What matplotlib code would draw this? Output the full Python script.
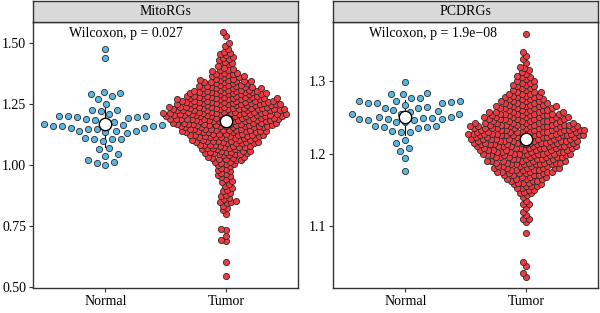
import numpy as np
import matplotlib
matplotlib.use('Agg')
from matplotlib import pyplot as plt

plt.rcParams['font.family'] = ['Liberation Serif', 'DejaVu Serif']

groups = ['Normal', 'Tumor']
panels = ['MitoRGs', 'PCDRGs']
p_texts = ['Wilcoxon, p = 0.027', 'Wilcoxon, p = 1.9e\u221208']

# MitoRGs, normal samples
mito_normal = [1.478, 1.440, 1.295, 1.300, 1.282, 1.270, 1.290, 1.253, 1.225, 1.223,
               1.228, 1.202, 1.202, 1.209, 1.198, 1.193, 1.189, 1.176, 1.164, 1.159,
               1.164, 1.176, 1.197, 1.202, 1.184, 1.167, 1.160, 1.149, 1.139, 1.153,
               1.132, 1.139, 1.137, 1.148, 1.152, 1.141, 1.161, 1.107, 1.112, 1.100,
               1.107, 1.107, 1.072, 1.045, 1.038, 1.022, 1.009, 0.999, 1.012, 1.066]

# MitoRGs, tumor samples: single outlying values + dense core (value, count)
mito_tumor_tail = [0.545, 0.605, 0.690, 0.695, 0.710, 0.735, 0.740, 0.800, 0.815, 0.825,
                   0.835, 0.845, 0.850, 0.850, 0.855, 0.860, 0.865, 0.875, 0.880, 0.885,
                   0.895, 0.900, 0.905, 0.915, 0.925, 0.930, 0.935, 0.945,
                   1.410, 1.415, 1.420, 1.425, 1.430, 1.435, 1.440, 1.445, 1.450, 1.455,
                   1.460, 1.465, 1.475, 1.490, 1.500, 1.530, 1.545]
mito_core_vals = [0.950, 0.955, 0.960, 0.965, 0.970, 0.975, 0.980, 0.985, 0.990, 0.995,
                  1.000, 1.005, 1.010, 1.015, 1.020, 1.025, 1.030, 1.035, 1.040, 1.045,
                  1.050, 1.055, 1.060, 1.065, 1.070, 1.075, 1.080, 1.085, 1.090, 1.095,
                  1.100, 1.105, 1.110, 1.115, 1.120, 1.125, 1.130, 1.135, 1.140, 1.145,
                  1.150, 1.155, 1.160, 1.165, 1.170, 1.175, 1.180, 1.185, 1.190, 1.195,
                  1.200, 1.205, 1.210, 1.215, 1.220, 1.225, 1.230, 1.235, 1.240, 1.245,
                  1.250, 1.255, 1.260, 1.265, 1.270, 1.275, 1.280, 1.285, 1.290, 1.295,
                  1.300, 1.305, 1.310, 1.315, 1.320, 1.325, 1.330, 1.335, 1.340, 1.345,
                  1.350, 1.355, 1.360, 1.365, 1.370, 1.375, 1.380, 1.385, 1.390, 1.395,
                  1.400, 1.405]
mito_core_n = [1, 1, 1, 1, 1, 1, 1, 1, 1, 1,
               1, 2, 1, 2, 2, 2, 2, 2, 2, 3,
               3, 3, 3, 3, 3, 3, 3, 4, 4, 4,
               4, 4, 4, 4, 4, 5, 4, 5, 5, 5,
               5, 5, 6, 6, 6, 6, 6, 7, 7, 7,
               7, 7, 7, 7, 7, 7, 7, 7, 7, 6,
               7, 6, 6, 6, 6, 6, 5, 5, 5, 5,
               5, 4, 4, 4, 4, 3, 3, 3, 3, 3,
               3, 2, 2, 2, 2, 2, 2, 1, 2, 1,
               1, 1]

# PCDRGs, normal samples
pcd_normal = [1.298, 1.282, 1.284, 1.282, 1.276, 1.269, 1.272, 1.271, 1.267, 1.263,
              1.260, 1.270, 1.272, 1.277, 1.272, 1.269, 1.264, 1.263, 1.258, 1.249,
              1.243, 1.247, 1.254, 1.251, 1.248, 1.246, 1.237, 1.230, 1.235, 1.238,
              1.231, 1.250, 1.247, 1.254, 1.238, 1.236, 1.230, 1.246, 1.254, 1.257,
              1.249, 1.243, 1.219, 1.215, 1.207, 1.204, 1.194, 1.176]

# PCDRGs, tumor samples
pcd_tumor_tail = [1.030, 1.035, 1.045, 1.050, 1.090, 1.105, 1.110, 1.110, 1.115, 1.120,
                  1.125, 1.130, 1.130, 1.135, 1.325, 1.330, 1.335, 1.340, 1.365]
pcd_core_vals = [1.1400, 1.1425, 1.1450, 1.1475, 1.1500, 1.1525, 1.1550, 1.1575, 1.1600, 1.1625,
                 1.1650, 1.1675, 1.1700, 1.1725, 1.1750, 1.1775, 1.1800, 1.1825, 1.1850, 1.1875,
                 1.1900, 1.1925, 1.1950, 1.1975, 1.2000, 1.2025, 1.2050, 1.2075, 1.2100, 1.2125,
                 1.2150, 1.2175, 1.2200, 1.2225, 1.2250, 1.2275, 1.2300, 1.2325, 1.2350, 1.2375,
                 1.2400, 1.2425, 1.2450, 1.2475, 1.2500, 1.2525, 1.2550, 1.2575, 1.2600, 1.2625,
                 1.2650, 1.2675, 1.2700, 1.2725, 1.2750, 1.2775, 1.2800, 1.2825, 1.2850, 1.2875,
                 1.2900, 1.2925, 1.2950, 1.2975, 1.3000, 1.3025, 1.3050, 1.3075, 1.3100, 1.3125,
                 1.3150, 1.3175, 1.3200]
pcd_core_n = [1, 1, 2, 1, 2, 2, 3, 2, 3, 3,
              4, 3, 4, 4, 5, 5, 6, 5, 6, 6,
              7, 6, 7, 7, 8, 7, 8, 8, 9, 8,
              9, 9, 9, 9, 10, 9, 10, 9, 9, 9,
              8, 8, 7, 7, 7, 6, 6, 6, 5, 5,
              5, 4, 4, 4, 4, 3, 3, 3, 3, 2,
              2, 2, 2, 2, 2, 1, 2, 1, 1, 1,
              1, 1, 1]

mito_tumor = np.concatenate([mito_tumor_tail, np.repeat(mito_core_vals, mito_core_n)])
pcd_tumor = np.concatenate([pcd_tumor_tail, np.repeat(pcd_core_vals, pcd_core_n)])

blue = '#58B6E2'
red = '#EE3A43'
edge = '#2b2b2b'


def swarm(y, d):
    # greedy beeswarm in pixel units, returns x offsets
    order = np.argsort(y, kind='stable')
    xs = np.zeros(len(y))
    py, px = [], []
    for i in order:
        yi = y[i]
        ay = np.array(py)
        ax_ = np.array(px)
        if len(ay):
            m = np.abs(ay - yi) < d
            ny, nx = ay[m], ax_[m]
        else:
            ny, nx = np.array([]), np.array([])
        cand = [0.0]
        for yy, xx in zip(ny, nx):
            off = np.sqrt(d * d - (yy - yi) ** 2)
            cand += [xx - off, xx + off]
        cand.sort(key=lambda c: (abs(c), c))
        for c in cand:
            if np.all((nx - c) ** 2 + (ny - yi) ** 2 >= d * d - 1e-6):
                xs[i] = c
                break
        py.append(yi)
        px.append(xs[i])
    return xs


fig = plt.figure(figsize=(6, 3.13), dpi=100)

data = [(mito_normal, mito_tumor), (pcd_normal, pcd_tumor)]
ylims = [(0.497, 1.587), (1.0145, 1.3814)]
yticks = [[0.50, 0.75, 1.00, 1.25, 1.50], [1.1, 1.2, 1.3]]
ytl = [['0.50', '0.75', '1.00', '1.25', '1.50'], ['1.1', '1.2', '1.3']]
lefts = [0.055, 0.555]
xpx = 121.0  # pixels per category unit

for k in range(2):
    ax = fig.add_axes([lefts[k], 0.0799, 0.442, 0.8498])
    ypx = 266.0 / (ylims[k][1] - ylims[k][0])
    for g, vals in enumerate(data[k]):
        vals = np.asarray(vals, dtype=float)
        d = 9.0 if g == 0 else 4.6
        off = swarm(vals * ypx, d) / xpx
        col = blue if g == 0 else red
        m, s = vals.mean(), vals.std()
        ax.plot([g + 1, g + 1], [m - s, m + s], color='black', lw=0.8, zorder=1)
        ax.scatter(g + 1 + off, vals, s=20, facecolor=col, edgecolor=edge,
                   linewidth=0.6, zorder=2)
        ax.scatter([g + 1], [m], s=80, facecolor='white', edgecolor='black',
                   linewidth=1.0, zorder=4)
    ax.set_xlim(0.4, 2.6)
    ax.set_ylim(*ylims[k])
    ax.set_xticks([1, 2])
    ax.set_xticklabels(groups, fontsize=10)
    ax.set_yticks(yticks[k])
    ax.set_yticklabels(ytl[k], fontsize=10)
    ax.tick_params(length=3, width=0.8, pad=2, color='#333333')
    for sp in ax.spines.values():
        sp.set_color('#333333')
        sp.set_linewidth(1.0)
    ax.text(0.136, 0.955, p_texts[k], transform=ax.transAxes, fontsize=10,
            ha='left', va='center')

    st = fig.add_axes([lefts[k], 0.9297, 0.442, 0.067])
    st.set_facecolor('#d9d9d9')
    st.set_xticks([])
    st.set_yticks([])
    for sp in st.spines.values():
        sp.set_color('#333333')
        sp.set_linewidth(1.0)
    st.text(0.5, 0.5, panels[k], transform=st.transAxes, fontsize=10,
            ha='center', va='center')

fig.savefig('out.png', dpi=100)
